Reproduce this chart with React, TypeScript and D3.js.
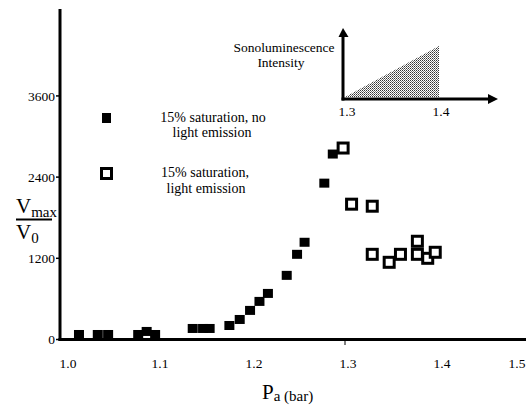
import React from "react";
import * as d3 from "d3";

// no light emission (filled squares)
const noEmissionPa = [1.017, 1.037, 1.048, 1.08, 1.089, 1.098, 1.138, 1.149, 1.156, 1.177, 1.188, 1.199, 1.209, 1.218, 1.238, 1.249, 1.257, 1.278, 1.287];
const noEmissionV = [74, 74, 74, 74, 119, 74, 163, 163, 163, 207, 296, 430, 563, 681, 948, 1259, 1437, 2311, 2741];

// light emission (open squares)
const emissionPa = [1.298, 1.307, 1.329, 1.329, 1.347, 1.359, 1.377, 1.377, 1.388, 1.396];
const emissionV = [2830, 2000, 1970, 1259, 1141, 1259, 1452, 1259, 1200, 1289];

const yTicks = [0, 1200, 2400, 3600];
const xTicks = [1.0, 1.1, 1.2, 1.3, 1.4, 1.5];
const insetTicks = [1.3, 1.4];
const insetTriangle: [number, number][] = [[1.3, 0], [1.4, 1], [1.4, 0]];

const serif = "Liberation Serif, DejaVu Serif, serif";

export default function App() {
  const width = 526;
  const height = 405;

  const x = d3.scaleLinear().domain([1.0, 1.5]).range([63, 533]);
  const y = d3.scaleLinear().domain([0, 4870]).range([339.5, 10]);

  // inset scales
  const ix = d3.scaleLinear().domain([1.3, 1.4]).range([345, 439]);
  const iy = d3.scaleLinear().domain([0, 1]).range([97, 46]);
  const triPath = d3.line<[number, number]>().x((d) => ix(d[0])).y((d) => iy(d[1]))(insetTriangle) + "Z";

  return (
    <svg width={width} height={height} style={{ position: "absolute", left: 0, top: 0, background: "#fff", fontFamily: serif }}>
      <defs>
        <pattern id="stipple" width="2" height="2" patternUnits="userSpaceOnUse">
          <rect width="2" height="2" fill="#fff" />
          <rect x="0" y="0" width="1" height="1" fill="#333" />
          <rect x="1" y="1" width="1" height="1" fill="#777" />
        </pattern>
      </defs>

      {/* axes */}
      <line x1={60} x2={60} y1={9} y2={341} stroke="#000" strokeWidth={3} />
      <line x1={58.5} x2={526} y1={339.5} y2={339.5} stroke="#000" strokeWidth={3} />

      {yTicks.map((t) => (
        <g key={t}>
          <line x1={56} x2={60} y1={y(t)} y2={y(t)} stroke="#000" strokeWidth={1.5} />
          <text x={55} y={y(t)} dy="0.35em" textAnchor="end" fontSize={13.5}>
            {t}
          </text>
        </g>
      ))}
      <line x1={x(1.3)} x2={x(1.3)} y1={340} y2={345} stroke="#000" strokeWidth={1} />
      {xTicks.map((t) => (
        <text key={t} x={Math.max(68, Math.min(517, x(t) + 3))} y={368} textAnchor="middle" fontSize={13.5}>
          {t.toFixed(1)}
        </text>
      ))}

      {/* y title as fraction */}
      <text x={16} y={213} fontSize={21}>
        V<tspan fontSize={15} dy={4}>max</tspan>
      </text>
      <line x1={16} x2={52} y1={219.5} y2={219.5} stroke="#000" strokeWidth={2} />
      <text x={16} y={239} fontSize={21}>
        V<tspan fontSize={15} dy={4}>0</tspan>
      </text>

      {/* x title */}
      <text x={262} y={399} fontSize={21}>
        P<tspan fontSize={15} dy={2}>a (bar)</tspan>
      </text>

      {/* data */}
      {noEmissionPa.map((p, i) => (
        <rect key={"f" + i} x={x(p) - 5} y={y(noEmissionV[i]) - 4.5} width={10} height={9} fill="#000" />
      ))}
      {emissionPa.map((p, i) => (
        <rect key={"o" + i} x={x(p) - 5} y={y(emissionV[i]) - 5} width={10} height={10} fill="#fff" stroke="#000" strokeWidth={3} />
      ))}

      {/* legend */}
      <rect x={102} y={113} width={9} height={10} fill="#000" />
      <text x={213} y={122} textAnchor="middle" fontSize={14}>
        15% saturation, no
      </text>
      <text x={212} y={137} textAnchor="middle" fontSize={14}>
        light emission
      </text>
      <rect x={101.5} y={168.5} width={10} height={10} fill="#fff" stroke="#000" strokeWidth={3} />
      <text x={205} y={177} textAnchor="middle" fontSize={14}>
        15% saturation,
      </text>
      <text x={206} y={193} textAnchor="middle" fontSize={14}>
        light emission
      </text>

      {/* inset */}
      <path d={triPath} fill="url(#stipple)" />
      <line x1={343} x2={343} y1={100.5} y2={34} stroke="#000" strokeWidth={3} />
      <path d="M338.5,37 L343,28 L348.5,37 Z" fill="#000" />
      <line x1={341.5} x2={490} y1={99} y2={99} stroke="#000" strokeWidth={3} />
      <path d="M488,94 L498,99 L488,104 Z" fill="#000" />
      {insetTicks.map((t) => (
        <text key={t} x={ix(t) + 2} y={116} textAnchor="middle" fontSize={13.5}>
          {t.toFixed(1)}
        </text>
      ))}
      <text x={284} y={51.5} textAnchor="middle" fontSize={13.5}>
        Sonoluminescence
      </text>
      <text x={281} y={66.5} textAnchor="middle" fontSize={13.5}>
        Intensity
      </text>
    </svg>
  );
}
